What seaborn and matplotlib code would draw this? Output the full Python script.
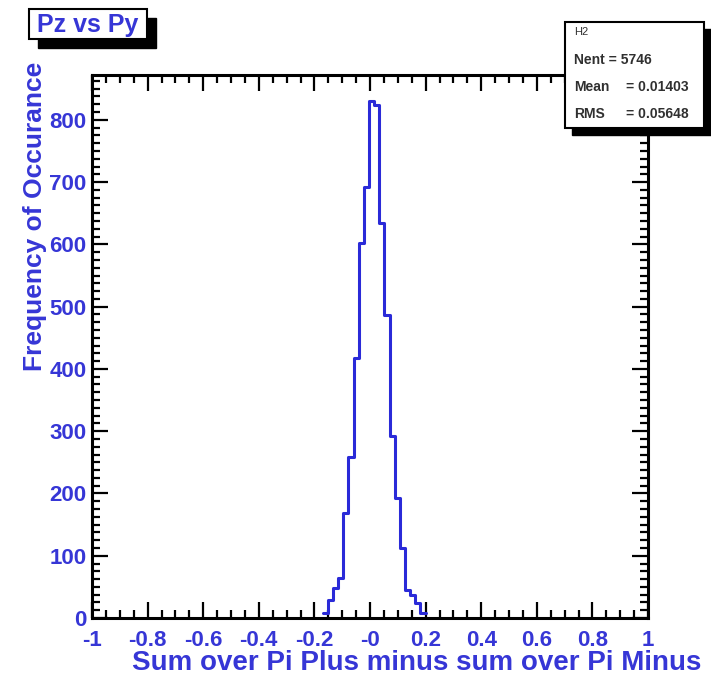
import numpy as np
import pandas as pd
import matplotlib
matplotlib.use("Agg")
import matplotlib.pyplot as plt
import seaborn as sns
from matplotlib.patches import Rectangle
from matplotlib.ticker import MultipleLocator, FixedLocator, FixedFormatter

# ---- data ----
bin_low, bin_high, n_bins = -0.17, 0.20, 20
counts = [8, 29, 48, 64, 168, 259, 417, 603, 692, 830,
          824, 634, 487, 292, 192, 112, 45, 37, 24, 8]
x_ticks = [-1, -0.8, -0.6, -0.4, -0.2, 0, 0.2, 0.4, 0.6, 0.8, 1]
x_tick_labels = ["-1", "-0.8", "-0.6", "-0.4", "-0.2", "-0", "0.2", "0.4", "0.6", "0.8", "1"]
y_ticks = [0, 100, 200, 300, 400, 500, 600, 700, 800]
y_tick_labels = [str(v) for v in y_ticks]
title = "Pz vs Py"
x_title = "Sum over Pi Plus minus sum over Pi Minus"
y_title = "Frequency of Occurance"
stats_name = "H2"
stats_rows = [("Nent = 5746", ""), ("Mean", "= 0.01403"), ("RMS", "= 0.05648")]

edges = np.linspace(bin_low, bin_high, n_bins + 1)
centers = (edges[:-1] + edges[1:]) / 2
df = pd.DataFrame({"x": centers, "w": counts})

W, H = 711, 681
sns.set_style("ticks")
plt.rcParams["font.family"] = ["Liberation Sans", "DejaVu Sans"]

fig = plt.figure(figsize=(W / 100, H / 100), dpi=100)
fig.patch.set_facecolor("white")

def fx(px):
    return px / W

def fy(py):
    return 1 - py / H

ax_l, ax_r, ax_t, ax_b = 92, 648, 75, 618
ax = fig.add_axes([fx(ax_l), fy(ax_b), fx(ax_r - ax_l), (ax_b - ax_t) / H])

blue_line = "#2a2ad8"
blue_text = "#3636d6"

sns.histplot(data=df, x="x", weights="w", bins=n_bins, binrange=(bin_low, bin_high),
             element="step", fill=False, color=blue_line, linewidth=2.2, ax=ax)

ax.set_xlim(-1, 1)
ax.set_ylim(0, 872)
ax.xaxis.set_major_locator(FixedLocator(x_ticks))
ax.xaxis.set_major_formatter(FixedFormatter(x_tick_labels))
ax.xaxis.set_minor_locator(MultipleLocator(0.05))
ax.yaxis.set_major_locator(FixedLocator(y_ticks))
ax.yaxis.set_major_formatter(FixedFormatter(y_tick_labels))
ax.yaxis.set_minor_locator(MultipleLocator(12.5))
ax.set_xlabel("")
ax.set_ylabel("")

ax.tick_params(which="both", direction="in", top=True, right=True, color="black", width=1.6)
ax.tick_params(which="major", length=11.5)
ax.tick_params(which="minor", length=5.5)
ax.tick_params(axis="x", which="major", pad=9)
ax.tick_params(axis="y", which="major", pad=4)
for lab in ax.get_xticklabels() + ax.get_yticklabels():
    lab.set_color(blue_text)
    lab.set_fontsize(16)
    lab.set_fontweight("bold")
for sp in ax.spines.values():
    sp.set_linewidth(2.2)
    sp.set_color("black")

# axis titles
fig.text(fx(701), fy(663), x_title, ha="right", va="center", color=blue_text,
         fontsize=20, fontweight="bold")
fig.text(fx(35), fy(62), y_title, ha="center", va="top", rotation=90, color=blue_text,
         fontsize=19, fontweight="bold")

def box(x0, y0, x1, y1, shadow):
    fig.patches.append(Rectangle((fx(x0 + shadow), fy(y1 + shadow)), fx(x1 - x0), (y1 - y0) / H,
                                 transform=fig.transFigure, facecolor="black", edgecolor="black",
                                 zorder=5))
    fig.patches.append(Rectangle((fx(x0), fy(y1)), fx(x1 - x0), (y1 - y0) / H,
                                 transform=fig.transFigure, facecolor="white", edgecolor="black",
                                 linewidth=1.5, zorder=6))

# title box
box(29, 9, 147, 39, 9)
fig.text(fx(88), fy(25), title, ha="center", va="center", color=blue_text,
         fontsize=18, fontweight="bold", zorder=7)

# stats box
box(565, 22, 704, 128, 7)
stat_color = "#303030"
fig.text(fx(574), fy(32), stats_name, ha="left", va="center", fontsize=8,
         color=stat_color, zorder=7)
row_y = [60, 87, 114]
for (lab, val), yy in zip(stats_rows, row_y):
    fig.text(fx(574), fy(yy), lab, ha="left", va="center", fontsize=10,
             fontweight="bold", color=stat_color, zorder=7)
    if val:
        fig.text(fx(626), fy(yy), val, ha="left", va="center", fontsize=10,
                 fontweight="bold", color=stat_color, zorder=7)

fig.savefig("out.png", dpi=100, facecolor="white")
